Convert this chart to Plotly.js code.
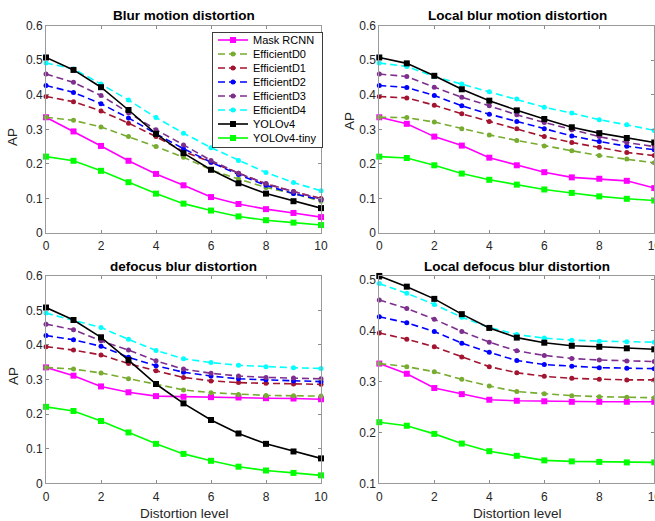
<!DOCTYPE html>
<html>
<head>
<meta charset="utf-8">
<script src="https://cdn.plot.ly/plotly-3.0.1.min.js"></script>
<style>
  html, body { margin: 0; padding: 0; background: #fff; }
  #chart { width: 655px; height: 521px; }
</style>
</head>
<body>
<div id="chart"></div>
<script>
// ---------- data ----------
const levels = [0, 1, 2, 3, 4, 5, 6, 7, 8, 9, 10];
const seriesNames = ["Mask RCNN", "EfficientD0", "EfficientD1", "EfficientD2", "EfficientD3", "EfficientD4", "YOLOv4", "YOLOv4-tiny"];
const panelTitles = ["Blur motion distortion", "Local blur motion distortion", "defocus blur distortion", "Local defocus blur distortion"];
const xTickVals = [0, 2, 4, 6, 8, 10];

// Blur motion distortion
const bmMask = [0.335, 0.294, 0.252, 0.209, 0.171, 0.138, 0.104, 0.084, 0.069, 0.058, 0.046];
const bmD0   = [0.335, 0.326, 0.307, 0.279, 0.250, 0.219, 0.183, 0.156, 0.132, 0.114, 0.092];
const bmD1   = [0.395, 0.380, 0.353, 0.318, 0.279, 0.236, 0.205, 0.173, 0.142, 0.120, 0.100];
const bmD2   = [0.427, 0.407, 0.374, 0.333, 0.287, 0.244, 0.205, 0.169, 0.138, 0.114, 0.096];
const bmD3   = [0.460, 0.436, 0.398, 0.348, 0.299, 0.255, 0.210, 0.173, 0.143, 0.120, 0.098];
const bmD4   = [0.492, 0.475, 0.431, 0.385, 0.334, 0.289, 0.247, 0.210, 0.175, 0.146, 0.122];
const bmYolo = [0.508, 0.472, 0.422, 0.356, 0.287, 0.231, 0.183, 0.144, 0.114, 0.092, 0.072];
const bmTiny = [0.221, 0.209, 0.180, 0.147, 0.114, 0.085, 0.065, 0.048, 0.037, 0.030, 0.023];

// Local blur motion distortion
const lbmMask = [0.335, 0.316, 0.279, 0.253, 0.218, 0.196, 0.176, 0.161, 0.157, 0.151, 0.130];
const lbmD0   = [0.335, 0.334, 0.321, 0.302, 0.284, 0.268, 0.252, 0.238, 0.224, 0.214, 0.203];
const lbmD1   = [0.395, 0.391, 0.370, 0.345, 0.323, 0.302, 0.279, 0.262, 0.248, 0.233, 0.224];
const lbmD2   = [0.427, 0.421, 0.398, 0.368, 0.344, 0.323, 0.302, 0.281, 0.265, 0.251, 0.241];
const lbmD3   = [0.460, 0.453, 0.422, 0.393, 0.368, 0.342, 0.320, 0.299, 0.279, 0.262, 0.250];
const lbmD4   = [0.492, 0.482, 0.453, 0.431, 0.409, 0.388, 0.364, 0.347, 0.328, 0.313, 0.297];
const lbmYolo = [0.508, 0.491, 0.455, 0.416, 0.383, 0.355, 0.330, 0.306, 0.289, 0.275, 0.262];
const lbmTiny = [0.221, 0.217, 0.196, 0.172, 0.154, 0.140, 0.126, 0.116, 0.106, 0.099, 0.094];

// defocus blur distortion
const dbMask = [0.335, 0.311, 0.280, 0.263, 0.252, 0.250, 0.249, 0.248, 0.246, 0.245, 0.243];
const dbD0   = [0.335, 0.330, 0.319, 0.302, 0.286, 0.270, 0.262, 0.257, 0.254, 0.253, 0.252];
const dbD1   = [0.395, 0.385, 0.371, 0.346, 0.325, 0.306, 0.296, 0.291, 0.289, 0.287, 0.286];
const dbD2   = [0.427, 0.415, 0.396, 0.364, 0.340, 0.321, 0.310, 0.302, 0.299, 0.296, 0.294];
const dbD3   = [0.460, 0.444, 0.412, 0.385, 0.354, 0.330, 0.318, 0.310, 0.306, 0.304, 0.302];
const dbD4   = [0.492, 0.472, 0.450, 0.416, 0.384, 0.360, 0.349, 0.341, 0.337, 0.334, 0.332];
const dbYolo = [0.508, 0.472, 0.422, 0.356, 0.287, 0.231, 0.183, 0.144, 0.114, 0.092, 0.072];
const dbTiny = [0.221, 0.209, 0.180, 0.147, 0.114, 0.085, 0.065, 0.048, 0.037, 0.030, 0.023];

// Local defocus blur distortion
const ldbMask = [0.335, 0.315, 0.287, 0.275, 0.264, 0.262, 0.261, 0.260, 0.260, 0.260, 0.260];
const ldbD0   = [0.335, 0.329, 0.319, 0.304, 0.291, 0.280, 0.276, 0.272, 0.270, 0.269, 0.268];
const ldbD1   = [0.395, 0.383, 0.368, 0.348, 0.329, 0.317, 0.310, 0.306, 0.304, 0.303, 0.303];
const ldbD2   = [0.427, 0.415, 0.398, 0.375, 0.357, 0.341, 0.333, 0.330, 0.327, 0.326, 0.325];
const ldbD3   = [0.460, 0.443, 0.422, 0.398, 0.377, 0.360, 0.351, 0.345, 0.342, 0.340, 0.339];
const ldbD4   = [0.492, 0.473, 0.451, 0.426, 0.406, 0.392, 0.385, 0.381, 0.379, 0.378, 0.377];
const ldbYolo = [0.507, 0.486, 0.462, 0.432, 0.405, 0.386, 0.376, 0.370, 0.368, 0.365, 0.363];
const ldbTiny = [0.220, 0.213, 0.197, 0.178, 0.163, 0.154, 0.145, 0.143, 0.142, 0.141, 0.141];

// ---------- styles ----------
const colors  = ["#ff00ff", "#77ac30", "#a2142f", "#0000ff", "#7e2f8e", "#00ffff", "#000000", "#00ff00"];
const dashes  = ["solid", "7px,4px", "7px,4px", "7px,4px", "7px,4px", "7px,4px", "solid", "solid"];
const symbols = ["square", "circle", "circle", "circle", "circle", "circle", "square", "square"];
const msizes  = [6, 5, 5, 5, 5, 5, 6, 6];

const panels = [
  [bmMask, bmD0, bmD1, bmD2, bmD3, bmD4, bmYolo, bmTiny],
  [lbmMask, lbmD0, lbmD1, lbmD2, lbmD3, lbmD4, lbmYolo, lbmTiny],
  [dbMask, dbD0, dbD1, dbD2, dbD3, dbD4, dbYolo, dbTiny],
  [ldbMask, ldbD0, ldbD1, ldbD2, ldbD3, ldbD4, ldbYolo, ldbTiny]
];

const W = 655, H = 521;
const px = v => v / W;
const py = v => 1 - v / H;

const traces = [];
panels.forEach((series, p) => {
  const ax = p === 0 ? "" : String(p + 1);
  series.forEach((vals, s) => {
    traces.push({
      type: "scatter",
      mode: "lines+markers",
      x: levels,
      y: vals,
      name: seriesNames[s],
      xaxis: "x" + ax,
      yaxis: "y" + ax,
      showlegend: p === 0,
      cliponaxis: false,
      line: { color: colors[s], width: 1.6, dash: dashes[s] },
      marker: { color: colors[s], symbol: symbols[s], size: msizes[s], line: { width: 0 } }
    });
  });
});

const tickFont = { family: "Liberation Sans, Arial, sans-serif", size: 12, color: "#262626" };
function xAx(dom, anchor) {
  return {
    domain: dom, anchor: anchor, range: [0, 10], tickvals: xTickVals,
    ticks: "inside", ticklen: 3, tickcolor: "#8c8c8c", tickwidth: 1,
    showline: true, linecolor: "#9a9a9a", linewidth: 1, mirror: "ticks",
    showgrid: false, zeroline: false, tickfont: tickFont, fixedrange: true,
    ticklabeloverflow: "allow", ticklabelstandoff: 2
  };
}
function yAx(dom, anchor, range) {
  return {
    domain: dom, anchor: anchor, range: range, dtick: 0.1, tick0: 0,
    ticks: "inside", ticklen: 3, tickcolor: "#8c8c8c", tickwidth: 1,
    showline: true, linecolor: "#9a9a9a", linewidth: 1, mirror: "ticks",
    showgrid: false, zeroline: false, tickfont: tickFont, fixedrange: true,
    ticklabeloverflow: "allow"
  };
}

const colL = [px(46), px(321)];
const colR = [px(379.3), px(654.3)];
const rowT = [py(233), py(25.7)];
const rowB = [py(483.3), py(275.7)];

const titleFont = { family: "Liberation Sans, Arial, sans-serif", size: 13.5, color: "#000" };
const labelFont = { family: "Liberation Sans, Arial, sans-serif", size: 13.5, color: "#262626" };
function ann(text, x, y, font, angle) {
  return { text: text, x: px(x), y: py(y), xref: "paper", yref: "paper",
           xanchor: "center", yanchor: "middle", showarrow: false, font: font, textangle: angle || 0 };
}

const layout = {
  width: W, height: H,
  margin: { l: 0, r: 0, t: 0, b: 0, pad: 0 },
  paper_bgcolor: "#ffffff", plot_bgcolor: "#ffffff",
  font: { family: "Liberation Sans, Arial, sans-serif" },
  xaxis: xAx(colL, "y"),   yaxis: yAx(rowT, "x", [0, 0.6]),
  xaxis2: xAx(colR, "y2"), yaxis2: yAx(rowT, "x2", [0, 0.6]),
  xaxis3: xAx(colL, "y3"), yaxis3: yAx(rowB, "x3", [0, 0.6]),
  xaxis4: xAx(colR, "y4"), yaxis4: yAx(rowB, "x4", [0.1, 0.5075]),
  showlegend: true,
  legend: {
    x: px(212), y: py(32), xanchor: "left", yanchor: "top",
    bgcolor: "#ffffff", bordercolor: "#3c3c3c", borderwidth: 1,
    font: { family: "Liberation Sans, Arial, sans-serif", size: 11, color: "#000" },
    itemwidth: 30, tracegroupgap: 0
  },
  annotations: [
    ann("<b>" + panelTitles[0] + "</b>", 184, 15, titleFont),
    ann("<b>" + panelTitles[1] + "</b>", 517, 15, titleFont),
    ann("<b>" + panelTitles[2] + "</b>", 183, 266, titleFont),
    ann("<b>" + panelTitles[3] + "</b>", 517, 266, titleFont),
    ann("AP", 13, 137, labelFont, -90),
    ann("AP", 349, 121, labelFont, -90),
    ann("AP", 13, 376, labelFont, -90),
    ann("Distortion level", 184, 513, labelFont),
    ann("Distortion level", 517, 513, labelFont)
  ]
};

const gd = document.getElementById("chart");
Plotly.newPlot(gd, traces, layout, { staticPlot: true, displayModeBar: false }).then(function () {
  // tighten legend row spacing to match the compact original legend
  const items = gd.querySelectorAll("g.legend g.traces");
  if (items.length > 1) {
    const parse = el => {
      const m = /translate\(\s*([-\d.eE]+)[\s,]+([-\d.eE]+)/.exec(el.getAttribute("transform") || "");
      return m ? [parseFloat(m[1]), parseFloat(m[2])] : [0, 0];
    };
    const step = 14, top = 8;
    items.forEach((it, i) => {
      const p = parse(it);
      it.setAttribute("transform", "translate(" + p[0] + "," + (top + i * step) + ")");
    });
    const bg = gd.querySelector("g.legend rect.bg");
    if (bg) bg.setAttribute("height", top + (items.length - 1) * step + 9);
  }
});
</script>
</body>
</html>
